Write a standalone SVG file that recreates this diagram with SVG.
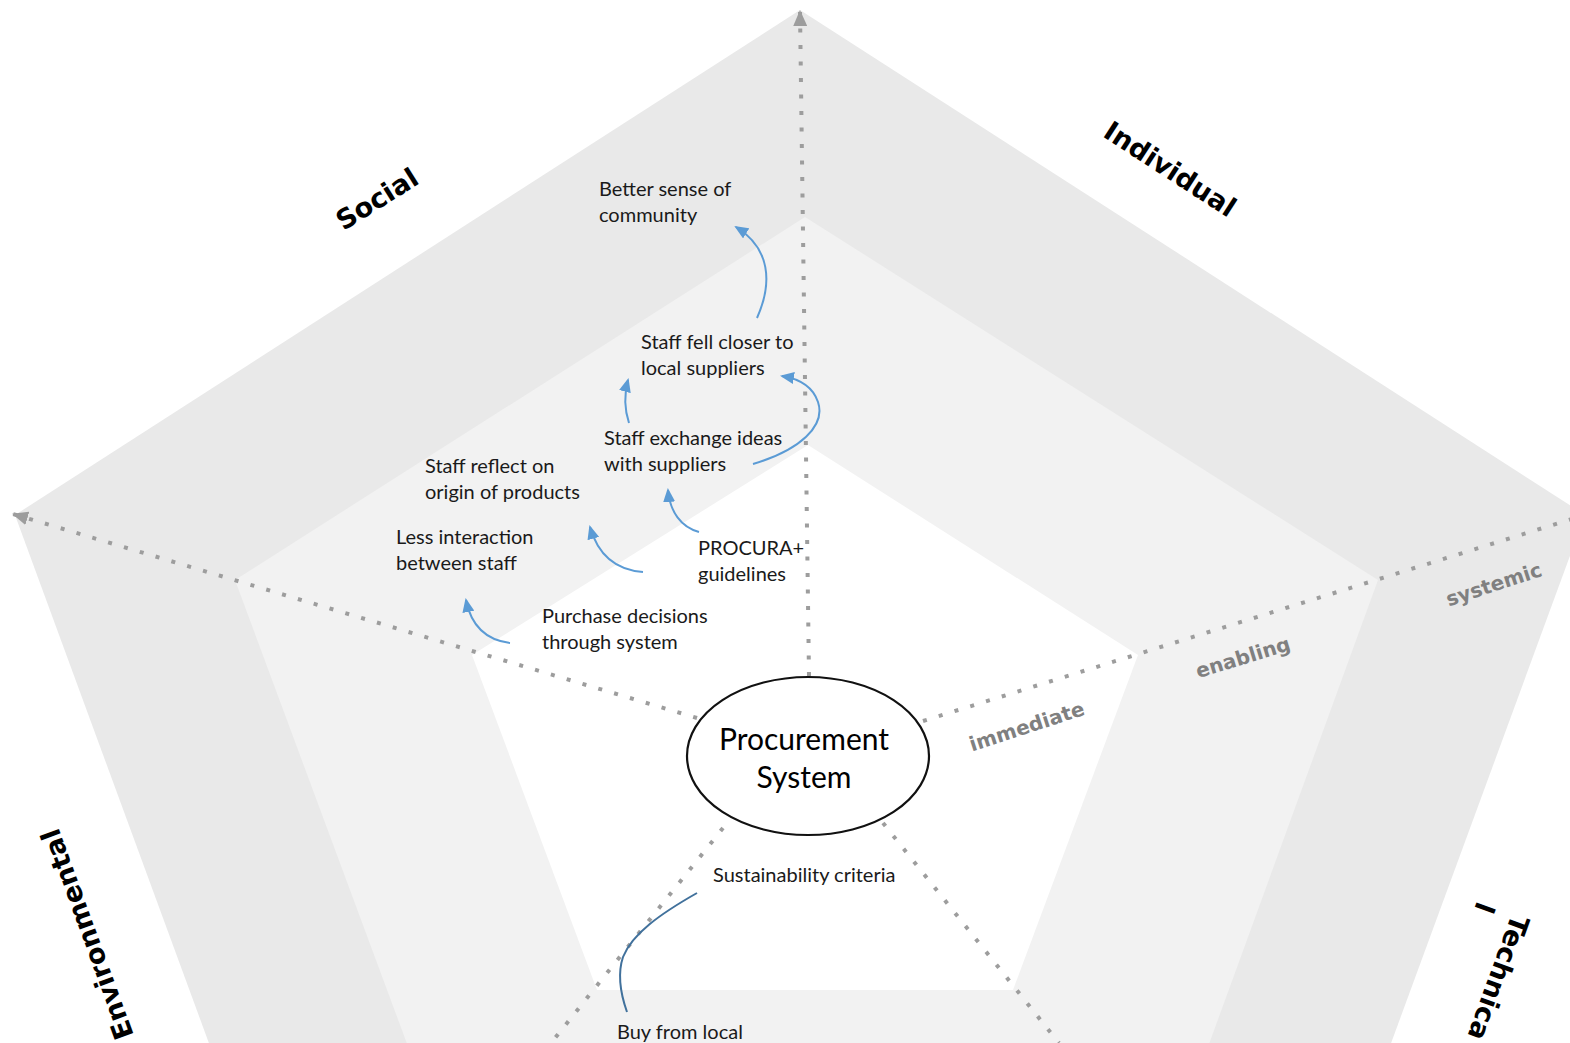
<svg xmlns="http://www.w3.org/2000/svg" width="1570" height="1043" viewBox="0 0 1570 1043">
  <style>
    .band1 { fill: #e9e9e9; }
    .band2 { fill: #f2f2f2; }
    .band3 { fill: #ffffff; }
    .axis { fill: none; stroke: #9d9d9d; stroke-width: 4; stroke-dasharray: 4 12.5; }
    .arr { fill: none; stroke: #5b9bd5; stroke-width: 2; }
    .body { font-family: Lato, "Liberation Sans", sans-serif; font-size: 20px; fill: #1a1a1a; }
    .dim { font-family: "DejaVu Sans", Verdana, sans-serif; font-weight: bold; font-size: 27px; fill: #000; }
    .lvl { font-family: "DejaVu Sans", Verdana, sans-serif; font-weight: bold; font-size: 20px; fill: #808080; }
    .core { font-family: Lato, "Liberation Sans", sans-serif; font-size: 30px; fill: #000; }
  </style>
  <defs>
    <marker id="ah" viewBox="0 0 14 12" refX="12" refY="6" markerWidth="14" markerHeight="12" markerUnits="userSpaceOnUse" orient="auto">
      <path d="M0,0 L14,6 L0,12 z" fill="#5b9bd5"/>
    </marker>
    <marker id="axh" viewBox="0 0 16 14" refX="15" refY="7" markerWidth="16" markerHeight="14" markerUnits="userSpaceOnUse" orient="auto">
      <path d="M0,0 L16,7 L0,14 z" fill="#9d9d9d"/>
    </marker>
  </defs>

  <rect x="0" y="0" width="1570" height="1043" fill="#ffffff"/>

  <g id="bands">
    <polygon class="band1" points="800,10 1585,515 1285,1332 315,1332 15,515"/>
    <polygon class="band2" points="805,217 1378,580 1165,1165 452,1165 235,580"/>
    <polygon class="band3" points="808,445 1138,655 1013,990 597,990 472,655"/>
  </g>

  <g id="connectors">
    <path class="axis" d="M809,676 L800,11" marker-end="url(#axh)"/>
    <path class="axis" d="M697,718 L13,514" marker-end="url(#axh)"/>
    <path class="axis" d="M923,721 L1575,518"/>
    <path class="axis" d="M723,828 L551,1043"/>
    <path class="axis" d="M883,823 L1059,1043"/>

    <path class="arr" d="M757,318 C773,282 770,248 736,227" marker-end="url(#ah)"/>
    <path class="arr" d="M629,423 C624,408 624,395 628,380" marker-end="url(#ah)"/>
    <path class="arr" d="M753,464 C800,450 826,426 818,402 C813,387 800,379 782,376" marker-end="url(#ah)"/>
    <path class="arr" d="M699,532 C681,527 670,512 668,490" marker-end="url(#ah)"/>
    <path class="arr" d="M643,572 C616,570 598,555 590,527" marker-end="url(#ah)"/>
    <path class="arr" d="M510,643 C486,640 471,625 466,600" marker-end="url(#ah)"/>
    <path fill="none" stroke="#41719c" stroke-width="2" d="M697,893 C660,914 632,934 623,957 C617,975 621,995 627,1012"/>
  </g>

  <g id="dimension-labels">
    <text class="dim" text-anchor="middle" transform="translate(382,207) rotate(-32)">Social</text>
    <text class="dim" text-anchor="middle" transform="translate(1165,177) rotate(33)">Individual</text>
    <text class="dim" text-anchor="middle" transform="translate(96,931) rotate(-110)">Environmental</text>
    <g transform="translate(1512,913) rotate(110)">
      <text class="dim" x="0" y="0">Technica</text>
      <text class="dim" x="0" y="37">l</text>
    </g>
  </g>

  <g id="level-labels">
    <text class="lvl" text-anchor="middle" transform="translate(1029,733) rotate(-18)">immediate</text>
    <text class="lvl" text-anchor="middle" transform="translate(1245,664) rotate(-17)">enabling</text>
    <text class="lvl" text-anchor="middle" transform="translate(1496,591) rotate(-18)">systemic</text>
  </g>

  <g id="node-procurement">
    <ellipse cx="808" cy="756" rx="121" ry="79" fill="#ffffff" stroke="#111" stroke-width="2.2"/>
    <text class="core" text-anchor="middle" x="804" y="750">Procurement</text>
    <text class="core" text-anchor="middle" x="804" y="788">System</text>
  </g>

  <g id="node-community">
    <text class="body" x="599" y="196">Better sense of</text>
    <text class="body" x="599" y="222">community</text>
  </g>
  <g id="node-closer">
    <text class="body" x="641" y="349">Staff fell closer to</text>
    <text class="body" x="641" y="375">local suppliers</text>
  </g>
  <g id="node-exchange">
    <text class="body" x="604" y="445">Staff exchange ideas</text>
    <text class="body" x="604" y="471">with suppliers</text>
  </g>
  <g id="node-reflect">
    <text class="body" x="425" y="473">Staff reflect on</text>
    <text class="body" x="425" y="499">origin of products</text>
  </g>
  <g id="node-interaction">
    <text class="body" x="396" y="544">Less interaction</text>
    <text class="body" x="396" y="570">between staff</text>
  </g>
  <g id="node-procura">
    <text class="body" x="698" y="555">PROCURA+</text>
    <text class="body" x="698" y="581">guidelines</text>
  </g>
  <g id="node-purchase">
    <text class="body" x="542" y="623">Purchase decisions</text>
    <text class="body" x="542" y="649">through system</text>
  </g>
  <g id="node-criteria">
    <text class="body" x="713" y="882">Sustainability criteria</text>
  </g>
  <g id="node-local">
    <text class="body" x="617" y="1039">Buy from local</text>
  </g>
</svg>
